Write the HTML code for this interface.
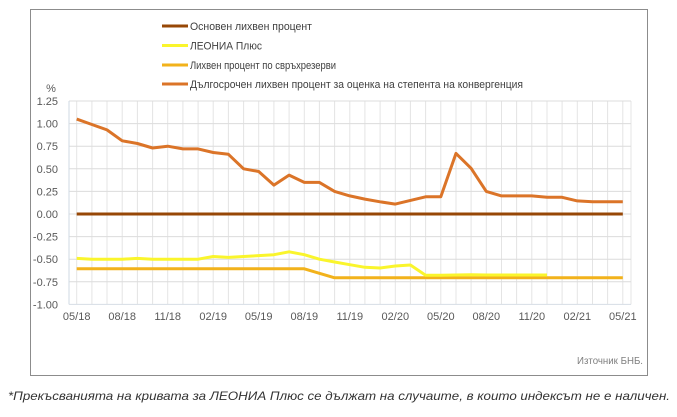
<!DOCTYPE html>
<html>
<head>
<meta charset="utf-8">
<style>
  html, body { margin:0; padding:0; background:#ffffff; }
  svg { display:block; }
  text { font-family: "Liberation Sans", "DejaVu Sans", sans-serif; }
</style>
</head>
<body>
<svg width="677" height="417" viewBox="0 0 677 417" xmlns="http://www.w3.org/2000/svg">
  <rect x="0" y="0" width="677" height="417" fill="#ffffff"/>
  <!-- outer border -->
  <rect x="30.5" y="9.5" width="617" height="366" fill="none" stroke="#8c8c8c" stroke-width="1"/>

  <!-- vertical gridlines -->
  <g stroke="#e4e4e4" stroke-width="1">
    <line x1="76.7" y1="101" x2="76.7" y2="304.4"/>
    <line x1="91.9" y1="101" x2="91.9" y2="304.4"/>
    <line x1="107.0" y1="101" x2="107.0" y2="304.4"/>
    <line x1="122.2" y1="101" x2="122.2" y2="304.4"/>
    <line x1="137.4" y1="101" x2="137.4" y2="304.4"/>
    <line x1="152.6" y1="101" x2="152.6" y2="304.4"/>
    <line x1="167.7" y1="101" x2="167.7" y2="304.4"/>
    <line x1="182.9" y1="101" x2="182.9" y2="304.4"/>
    <line x1="198.1" y1="101" x2="198.1" y2="304.4"/>
    <line x1="213.2" y1="101" x2="213.2" y2="304.4"/>
    <line x1="228.4" y1="101" x2="228.4" y2="304.4"/>
    <line x1="243.6" y1="101" x2="243.6" y2="304.4"/>
    <line x1="258.7" y1="101" x2="258.7" y2="304.4"/>
    <line x1="273.9" y1="101" x2="273.9" y2="304.4"/>
    <line x1="289.1" y1="101" x2="289.1" y2="304.4"/>
    <line x1="304.3" y1="101" x2="304.3" y2="304.4"/>
    <line x1="319.4" y1="101" x2="319.4" y2="304.4"/>
    <line x1="334.6" y1="101" x2="334.6" y2="304.4"/>
    <line x1="349.8" y1="101" x2="349.8" y2="304.4"/>
    <line x1="364.9" y1="101" x2="364.9" y2="304.4"/>
    <line x1="380.1" y1="101" x2="380.1" y2="304.4"/>
    <line x1="395.3" y1="101" x2="395.3" y2="304.4"/>
    <line x1="410.4" y1="101" x2="410.4" y2="304.4"/>
    <line x1="425.6" y1="101" x2="425.6" y2="304.4"/>
    <line x1="440.8" y1="101" x2="440.8" y2="304.4"/>
    <line x1="456.0" y1="101" x2="456.0" y2="304.4"/>
    <line x1="471.1" y1="101" x2="471.1" y2="304.4"/>
    <line x1="486.3" y1="101" x2="486.3" y2="304.4"/>
    <line x1="501.5" y1="101" x2="501.5" y2="304.4"/>
    <line x1="516.6" y1="101" x2="516.6" y2="304.4"/>
    <line x1="531.8" y1="101" x2="531.8" y2="304.4"/>
    <line x1="547.0" y1="101" x2="547.0" y2="304.4"/>
    <line x1="562.1" y1="101" x2="562.1" y2="304.4"/>
    <line x1="577.3" y1="101" x2="577.3" y2="304.4"/>
    <line x1="592.5" y1="101" x2="592.5" y2="304.4"/>
    <line x1="607.6" y1="101" x2="607.6" y2="304.4"/>
    <line x1="622.8" y1="101" x2="622.8" y2="304.4"/>
    <line x1="631" y1="101" x2="631" y2="304.4"/>
  </g>
  <!-- horizontal gridlines -->
  <g stroke="#dcdcdc" stroke-width="1">
    <line x1="69" y1="101" x2="631" y2="101"/>
    <line x1="69" y1="123.6" x2="631" y2="123.6"/>
    <line x1="69" y1="146.2" x2="631" y2="146.2"/>
    <line x1="69" y1="168.8" x2="631" y2="168.8"/>
    <line x1="69" y1="191.4" x2="631" y2="191.4"/>
    <line x1="69" y1="214" x2="631" y2="214"/>
    <line x1="69" y1="236.6" x2="631" y2="236.6"/>
    <line x1="69" y1="259.2" x2="631" y2="259.2"/>
    <line x1="69" y1="281.8" x2="631" y2="281.8"/>
  </g>
  <!-- axes -->
  <line x1="69" y1="101" x2="69" y2="304.4" stroke="#cfd9e3" stroke-width="1"/>
  <line x1="69" y1="304.4" x2="631" y2="304.4" stroke="#d6dde5" stroke-width="1"/>

  <!-- y labels -->
  <g font-size="11" fill="#595959" text-anchor="end">
    <text x="58" y="105">1.25</text>
    <text x="58" y="127.6">1.00</text>
    <text x="58" y="150.2">0.75</text>
    <text x="58" y="172.8">0.50</text>
    <text x="58" y="195.4">0.25</text>
    <text x="58" y="218">0.00</text>
    <text x="58" y="240.6">-0.25</text>
    <text x="58" y="263.2">-0.50</text>
    <text x="58" y="285.8">-0.75</text>
    <text x="58" y="308.4">-1.00</text>
  </g>
  <text x="51" y="92" font-size="11" fill="#595959" text-anchor="middle">%</text>

  <!-- x labels -->
  <g font-size="11" fill="#595959" text-anchor="middle">
    <text x="76.7" y="320">05/18</text>
    <text x="122.2" y="320">08/18</text>
    <text x="167.7" y="320">11/18</text>
    <text x="213.2" y="320">02/19</text>
    <text x="258.7" y="320">05/19</text>
    <text x="304.3" y="320">08/19</text>
    <text x="349.8" y="320">11/19</text>
    <text x="395.3" y="320">02/20</text>
    <text x="440.8" y="320">05/20</text>
    <text x="486.3" y="320">08/20</text>
    <text x="531.8" y="320">11/20</text>
    <text x="577.3" y="320">02/21</text>
    <text x="622.8" y="320">05/21</text>
  </g>

  <!-- base rate -->
  <line x1="76.7" y1="214" x2="622.8" y2="214" stroke="#974706" stroke-width="3"/>

  <!-- excess reserves -->
  <polyline fill="none" stroke="#F2B21B" stroke-width="3" stroke-linejoin="round"
    points="76.7,268.8 304.3,268.8 319.4,273.3 334.6,277.8 622.8,277.8"/>

  <!-- LEONIA Plus -->
  <polyline fill="none" stroke="#FAF52C" stroke-width="3" stroke-linejoin="round"
    points="76.7,258.4 91.9,259.2 107.0,259.2 122.2,259.2 137.4,258.4 152.6,259.2 167.7,259.2 182.9,259.2 198.1,259.2 213.2,256.5 228.4,257.4 243.6,256.5 258.7,255.6 273.9,254.7 289.1,251.8 304.3,254.7 319.4,259.2 334.6,262.0 349.8,264.7 364.9,267.3 380.1,268.0 395.3,266.0 410.4,265.0 425.6,275.2 440.8,275.2 456.0,275.0 471.1,274.8 486.3,275.0 501.5,275.0 516.6,275.0 531.8,275.0 547.0,275.0"/>

  <!-- long-term rate -->
  <polyline fill="none" stroke="#DB7428" stroke-width="3" stroke-linejoin="round"
    points="76.7,119.1 91.9,124.5 107.0,129.9 122.2,140.8 137.4,143.5 152.6,148.0 167.7,146.2 182.9,148.9 198.1,148.9 213.2,152.5 228.4,154.3 243.6,168.8 258.7,171.5 273.9,185.1 289.1,175.1 304.3,182.4 319.4,182.4 334.6,191.4 349.8,195.9 364.9,199.1 380.1,201.8 395.3,204.1 410.4,200.4 425.6,196.8 440.8,196.8 456.0,153.4 471.1,168.3 486.3,191.4 501.5,195.9 516.6,195.9 531.8,195.9 547.0,197.3 562.1,197.3 577.3,200.9 592.5,201.8 607.6,201.8 622.8,201.8"/>

  <!-- legend -->
  <line x1="162" y1="26" x2="188" y2="26" stroke="#974706" stroke-width="3"/>
  <line x1="162" y1="45.5" x2="188" y2="45.5" stroke="#FAF52C" stroke-width="3"/>
  <line x1="162" y1="65" x2="188" y2="65" stroke="#F2B21B" stroke-width="3"/>
  <line x1="162" y1="84" x2="188" y2="84" stroke="#DB7428" stroke-width="3"/>
  <g font-size="11" fill="#404040">
    <text x="190" y="30" textLength="122" lengthAdjust="spacingAndGlyphs">Основен лихвен процент</text>
    <text x="190" y="49.5" textLength="72" lengthAdjust="spacingAndGlyphs">ЛЕОНИА Плюс</text>
    <text x="190" y="69" textLength="146" lengthAdjust="spacingAndGlyphs">Лихвен процент по свръхрезерви</text>
    <text x="190" y="88" textLength="333" lengthAdjust="spacingAndGlyphs">Дългосрочен лихвен процент за оценка на степента на конвергенция</text>
  </g>

  <!-- source -->
  <text x="643" y="364" font-size="10" fill="#7f7f7f" text-anchor="end" textLength="66" lengthAdjust="spacingAndGlyphs">Източник БНБ.</text>

  <!-- footnote -->
  <text x="8" y="400" font-size="12" font-style="italic" fill="#333333" textLength="662" lengthAdjust="spacingAndGlyphs">*Прекъсванията на кривата за ЛЕОНИА Плюс се дължат на случаите, в които индексът не е наличен.</text>
</svg>
</body>
</html>
